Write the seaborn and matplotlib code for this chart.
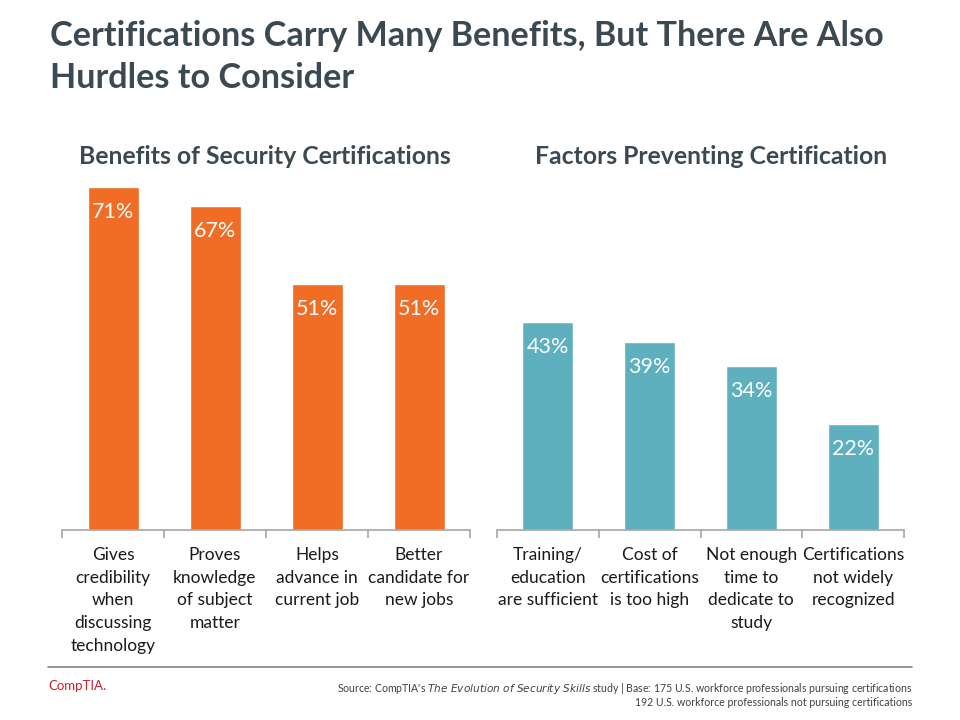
import matplotlib
matplotlib.use("Agg")
import matplotlib.pyplot as plt
import seaborn as sns
import pandas as pd

sns.set_theme(style="white")
plt.rcParams['font.family'] = ['Lato', 'DejaVu Sans']

# ---- data ----
benefit_labels = ["Gives\ncredibility\nwhen\ndiscussing\ntechnology",
                  "Proves\nknowledge\nof subject\nmatter",
                  "Helps\nadvance in\ncurrent job",
                  "Better\ncandidate for\nnew jobs"]
benefit_values = [71, 67, 51, 51]

factor_labels = ["Training/\neducation\nare sufficient",
                 "Cost of\ncertifications\nis too high",
                 "Not enough\ntime to\ndedicate to\nstudy",
                 "Certifications\nnot widely\nrecognized"]
factor_values = [43, 39, 34, 22]

title_text = "Certifications Carry Many Benefits, But There Are Also\nHurdles to Consider"
left_title = "Benefits of Security Certifications"
right_title = "Factors Preventing Certification"

ORANGE = "#F16C25"
TEAL = "#5EB0BE"
TITLE_C = "#3B4953"
AXIS_C = "#A6A6A6"

W, H = 960, 720
fig = plt.figure(figsize=(W / 100, H / 100), dpi=100)

px_per_pct = 4.83
ymax = 75
ax_h = ymax * px_per_pct
base_y = 530

def make_ax(x0, x1):
    return fig.add_axes([x0 / W, (H - base_y) / H, (x1 - x0) / W, ax_h / H])

axL = make_ax(62, 470)
axR = make_ax(497, 904)

for ax, labels, vals, col in [(axL, benefit_labels, benefit_values, ORANGE),
                              (axR, factor_labels, factor_values, TEAL)]:
    df = pd.DataFrame({"cat": labels, "val": vals})
    sns.barplot(data=df, x="cat", y="val", color=col, width=0.5,
                saturation=1, ax=ax)
    ax.set_ylim(0, ymax)
    ax.set_xlim(-0.5, len(labels) - 0.5)
    ax.set_xlabel("")
    ax.set_ylabel("")
    ax.set_yticks([])
    for s in ["top", "right", "left"]:
        ax.spines[s].set_visible(False)
    ax.spines["bottom"].set_color(AXIS_C)
    ax.spines["bottom"].set_linewidth(1.2)
    ax.set_xticks([i for i in range(len(labels))])
    ax.set_xticklabels(labels, fontsize=12.5, color="#1a1a1a", linespacing=1.53,
                       va="top")
    ax.tick_params(axis="x", length=0, pad=12)
    # separator ticks at category boundaries
    ax.set_xticks([i - 0.5 for i in range(len(labels) + 1)], minor=True)
    ax.tick_params(axis="x", which="minor", length=6, color=AXIS_C, width=1.2,
                   direction="out", bottom=True)
    for p, v in zip(ax.patches, vals):
        ax.annotate(f"{v}%", (p.get_x() + p.get_width() / 2, v),
                    xytext=(0, -18), textcoords="offset points",
                    ha="center", va="center", color="white", fontsize=15.5)

fig.text(50 / W, 1 - 20 / H, title_text, ha="left", va="top",
         fontsize=24.6, fontweight="bold", color=TITLE_C, linespacing=1.4)
fig.text(265 / W, 1 - 157 / H, left_title, ha="center", va="center",
         fontsize=17.8, fontweight="bold", color=TITLE_C)
fig.text(711 / W, 1 - 157 / H, right_title, ha="center", va="center",
         fontsize=17.8, fontweight="bold", color=TITLE_C)

# footer
fig.add_artist(plt.Line2D([48 / W, 912 / W], [1 - 667 / H, 1 - 667 / H],
                          color="#7F7F7F", lw=1.2))
fig.text(48 / W, 1 - 686 / H, "CompTIA.", ha="left", va="center",
         fontsize=9.5, color="#C8202F")
fig.text(912 / W, 1 - 688 / H,
         "Source: CompTIA's $\\it{The\\ Evolution\\ of\\ Security\\ Skills}$ study | Base: 175 U.S. workforce professionals pursuing certifications",
         ha="right", va="center", fontsize=7.6, color="#404040")
fig.text(912 / W, 1 - 703 / H,
         "192 U.S. workforce professionals not pursuing certifications",
         ha="right", va="center", fontsize=7.6, color="#404040")

fig.savefig("out.png", dpi=100)
